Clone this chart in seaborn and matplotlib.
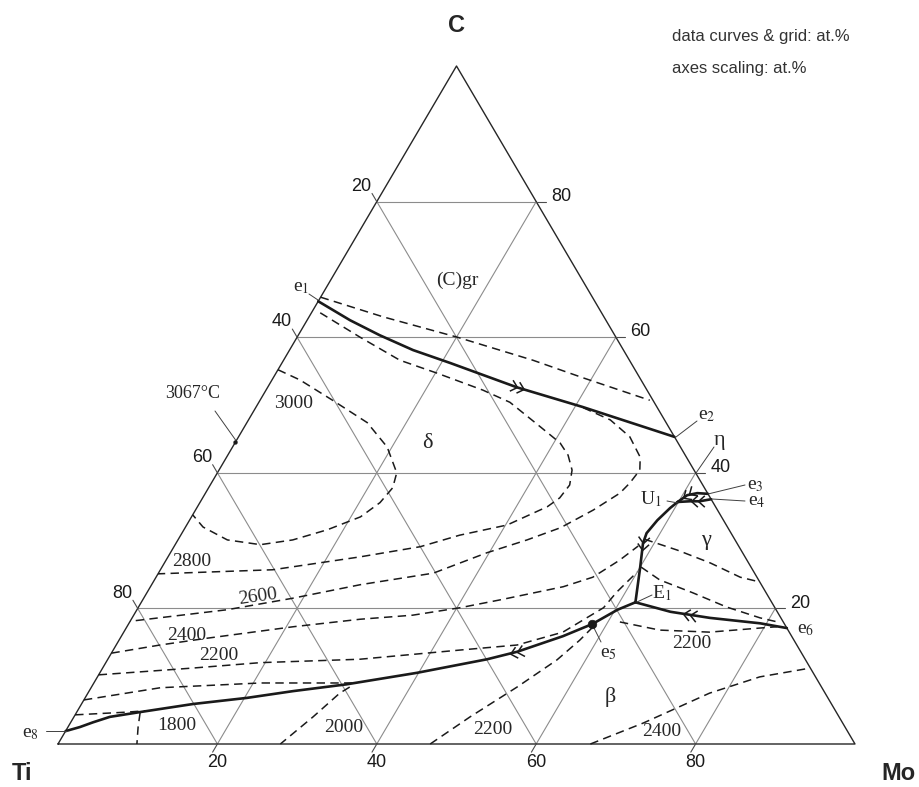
import numpy as np
import matplotlib
matplotlib.use("Agg")
import matplotlib.pyplot as plt
import seaborn as sns
from matplotlib.markers import MarkerStyle
from matplotlib.path import Path
from matplotlib.transforms import Affine2D

# --- liquidus projection, compositions as (Mo at.%, C at.%), Ti = balance ---
# monovariant lines (solid)
e1_e2 = [(0.0, 65.3), (5.4, 62.5), (10.2, 60.3), (15.5, 58.1), (21.1, 56.2),
         (31.3, 52.6), (41.0, 49.7), (54.7, 45.3)]
e8_e5_E1 = [(0.0, 1.9), (1.5, 2.5), (2.8, 3.2), (4.5, 4.0), (7.9, 4.7), (14.0, 5.9),
            (20.3, 6.8), (25.6, 7.8), (31.8, 8.8), (39.8, 10.5), (47.6, 12.5),
            (50.8, 13.6), (55.4, 15.9), (58.2, 17.7), (60.3, 19.8), (62.0, 20.9)]
E1_e6 = [(62.0, 20.9), (67.1, 19.5), (72.5, 18.6), (79.2, 17.8), (82.9, 17.1)]
E1_U1 = [(62.0, 20.9), (60.0, 26.1), (58.6, 29.6), (58.3, 31.1), (58.7, 33.0),
         (59.4, 34.8), (59.9, 35.7)]
U1_e3 = [(59.9, 35.7), (60.6, 36.7), (61.7, 37.0), (63.1, 36.9)]
U1_e4 = [(59.9, 35.7), (61.4, 35.8), (62.6, 35.8), (63.9, 36.1)]

# isotherms (dashed)
iso_gr = [(0.0, 65.9), (9.3, 63.0), (20.1, 60.0), (31.3, 56.6), (38.9, 54.0), (48.9, 50.7)]
iso_3000 = [(0.0, 55.2), (3.5, 53.7), (9.1, 50.7), (15.1, 47.4), (19.4, 43.8), (22.5, 40.0),
            (23.1, 37.8), (22.6, 35.6), (21.2, 33.5), (18.0, 31.6), (14.4, 30.1),
            (10.7, 29.4), (6.2, 30.1), (2.2, 32.0), (0.0, 33.8)]
iso_2800 = [(1.1, 63.6), (7.9, 60.0), (14.6, 56.6), (20.2, 54.7), (27.2, 52.2), (31.5, 50.4),
            (37.1, 46.8), (40.8, 44.4), (42.7, 42.6), (44.3, 40.4), (45.1, 38.2),
            (44.8, 36.3), (43.9, 35.0), (40.2, 32.3), (35.0, 30.8), (30.9, 29.1),
            (24.1, 27.6), (14.1, 25.7), (0.0, 25.1)]
iso_2600 = [(41.1, 49.6), (45.4, 47.8), (49.1, 45.3), (51.9, 42.3), (52.8, 40.4),
            (52.5, 38.5), (52.0, 37.0), (49.9, 34.5), (47.1, 31.9), (43.8, 30.1),
            (39.7, 28.2), (34.5, 25.2), (26.2, 23.5), (18.7, 21.5), (11.3, 19.8), (0.0, 18.1)]
iso_2400 = [(0.0, 13.4), (5.5, 14.6), (10.9, 15.6), (20.9, 17.3), (28.7, 18.4), (35.0, 19.0),
            (40.4, 20.1), (45.0, 21.3), (51.8, 23.2), (54.8, 24.6), (56.9, 27.1), (58.2, 29.2)]
iso_2400_g = [(58.5, 30.2), (63.4, 28.6), (68.5, 26.7), (73.3, 24.6), (76.1, 23.9)]
iso_2200 = [(0.0, 10.2), (11.3, 11.2), (19.4, 12.0), (31.6, 12.5), (43.9, 13.9), (50.3, 14.6),
            (55.1, 16.5), (58.4, 20.1), (58.9, 22.4), (60.0, 25.4)]
iso_2200_g = [(60.1, 26.1), (63.4, 24.2), (68.5, 22.3), (73.8, 20.2), (78.8, 18.6), (81.7, 17.9)]
iso_2000_d = [(0.0, 6.5), (8.7, 8.3), (20.9, 9.0), (32.4, 9.0)]
iso_1900_d = [(0.0, 4.3), (6.3, 4.7), (8.5, 4.9)]
iso_1800_b = [(8.0, 4.6), (8.8, 2.5), (9.9, 0.0)]
iso_2000_b = [(32.4, 8.4), (31.6, 7.5), (30.0, 4.0), (27.9, 0.0)]
iso_2200_b = [(46.7, 0.0), (49.7, 4.0), (53.4, 8.4), (56.4, 12.4), (57.8, 15.3), (58.5, 17.3)]
iso_2200_b2 = [(61.5, 18.0), (67.1, 16.8), (73.5, 16.5), (79.5, 17.1), (81.6, 17.3)]
iso_2400_b = [(66.8, 0.0), (71.9, 3.1), (78.0, 7.5), (83.1, 9.9), (88.8, 11.2)]

# direction arrows on monovariant lines: (at, towards)
arrows = [((31.3, 52.6), (41.0, 49.7)), ((50.8, 13.6), (47.6, 12.5)),
          ((69.8, 19.0), (67.1, 19.5)), ((58.6, 29.6), (60.0, 26.1)),
          ((60.8, 36.8), (59.9, 35.7)), ((62.4, 35.8), (61.4, 35.8))]

e5_point = (58.2, 17.7)
tic_point = (0.0, 44.5)   # TiC congruent maximum, 3067 C
grid_vals = [20, 40, 60, 80]

# --- figure geometry (pixels of the reference) ---
W, H = 920, 787
X0, Y0, SIDE, HT = 58, 744, 797, 678

sns.set_theme(style="white")
plt.rcParams["font.family"] = ["Liberation Serif", "DejaVu Serif"]
plt.rcParams["mathtext.fontset"] = "stix"

fig = plt.figure(figsize=(W / 100, H / 100), dpi=100)
ax = fig.add_axes([X0 / W, (H - Y0) / H, SIDE / W, HT / H])
ax.set_xlim(0, 100)
ax.set_ylim(0, 100)
ax.axis("off")


def tern(pts):
    pts = np.asarray(pts, float)
    return pts[:, 0] + pts[:, 1] / 2, pts[:, 1]


def curve(pts, **kw):
    x, y = tern(pts)
    sns.lineplot(x=x, y=y, sort=False, estimator=None, ax=ax, clip_on=False, **kw)


def pxd(px, py):
    # reference pixel -> data coords
    return (px - X0) / SIDE * 100, (Y0 - py) / HT * 100


def label(s, px, py, size=14, **kw):
    fig.text(px / W, 1 - py / H, s, ha=kw.pop("ha", "center"), va=kw.pop("va", "center"),
             fontsize=size, **kw)


def leader(p0, p1, lw=0.7):
    a, b = pxd(*p0), pxd(*p1)
    ax.plot([a[0], b[0]], [a[1], b[1]], color="0.25", lw=lw, clip_on=False)


# grid
grid_kw = dict(color="0.55", lw=0.8)
for v in grid_vals:
    curve([(0, v), (100 - v, v)], **grid_kw)
    curve([(v, 0), (v, 100 - v)], **grid_kw)
    curve([(100 - v, 0), (0, 100 - v)], **grid_kw)
curve([(0, 0), (100, 0), (0, 100), (0, 0)], color="0.15", lw=1.0)

# ticks and tick labels
tick_kw = dict(color="0.3", lw=0.8)
num_font = dict(fontsize=13, family=["Liberation Sans", "DejaVu Sans"], color="0.1")
for v in grid_vals:
    # left side: Ti content
    curve([(0, 100 - v), (-1.2, 100 - v + 1.2)], **tick_kw)
    x, y = tern([(0, 100 - v)])
    ax.annotate(str(v), (x[0], y[0]), xytext=(-11, 11), textcoords="offset points",
                ha="center", va="center", **num_font)
    # right side: C content
    curve([(100 - v, v), (101.2 - v, v)], **tick_kw)
    x, y = tern([(100 - v, v)])
    ax.annotate(str(v), (x[0], y[0]), xytext=(10.5, 3.8), textcoords="offset points",
                ha="left", va="center", **num_font)
    # bottom: Mo content
    curve([(v, 0), (v, -1.2)], **tick_kw)
    x, y = tern([(v, 0)])
    ax.annotate(str(v), (x[0], y[0]), xytext=(0, -13), textcoords="offset points",
                ha="center", va="center", **num_font)

# isotherms
dash_kw = dict(color="0.1", lw=1.1, linestyle=(0, (5.5, 3.5)))
for iso in [iso_gr, iso_3000, iso_2800, iso_2600, iso_2400, iso_2400_g, iso_2200,
            iso_2200_g, iso_2000_d, iso_1900_d, iso_1800_b, iso_2000_b, iso_2200_b,
            iso_2200_b2, iso_2400_b]:
    curve(iso, **dash_kw)

# monovariant lines
solid_kw = dict(color="k", lw=1.9)
for line in [e1_e2, e8_e5_E1, E1_e6, E1_U1, U1_e3, U1_e4]:
    curve(line, **solid_kw)

# points
px_, py_ = tern([e5_point, tic_point])
sns.scatterplot(x=px_[:1], y=py_[:1], ax=ax, color="k", s=38, edgecolor="k", zorder=5,
                clip_on=False)
sns.scatterplot(x=px_[1:], y=py_[1:], ax=ax, color="k", s=8, edgecolor="k", zorder=5,
                clip_on=False)

# arrows (double chevrons)
chev = Path([(-1.0, 0.9), (0, 0), (-1.0, -0.9), (0.1, 0.9), (1.1, 0), (0.1, -0.9)],
            [Path.MOVETO, Path.LINETO, Path.LINETO, Path.MOVETO, Path.LINETO, Path.LINETO])
for at, to in arrows:
    (xa, xb), (ya, yb) = tern([at, to])
    d0 = ax.transData.transform((xa, ya))
    d1 = ax.transData.transform((xb, yb))
    ang = np.degrees(np.arctan2(d1[1] - d0[1], d1[0] - d0[0]))
    ms = MarkerStyle(chev, transform=Affine2D().rotate_deg(ang))
    ax.plot([xa], [ya], marker=ms, markersize=10, mfc="none", mec="k", mew=1.1,
            ls="none", clip_on=False, zorder=6)

# leaders
leader((309, 294), (318, 300))
leader((676, 437), (697, 421))
leader((708, 494), (745, 485))
leader((712, 499), (745, 501))
leader((696, 473), (714, 447))
leader((667, 501), (678, 503))
leader((637, 602), (652, 595))
leader((594, 628), (601, 642))
leader((46, 731), (67, 731))
leader((215, 411), (237, 442))

# phase and point labels
label("(C)gr", 457, 280, 14)
label("δ", 427, 443, 16)
label("η", 720, 440, 16)
label("γ", 706, 540, 16)
label("β", 610, 697, 16)
label(r"e$_1$", 301, 288, 14)
label(r"e$_2$", 707, 416, 14)
label(r"e$_3$", 755, 485, 14)
label(r"e$_4$", 757, 502, 14)
label(r"e$_5$", 609, 654, 14)
label(r"e$_6$", 806, 629, 14)
label(r"e$_8$", 30, 734, 14)
label(r"U$_1$", 651, 499, 14)
label(r"E$_1$", 662, 593, 14)
label("3067°C", 193, 393, 13)

# isotherm labels
label("3000", 294, 403, 14)
label("2800", 192, 562, 14)
label("2600", 258, 597, 14, rotation=8)
label("2400", 187, 635, 14)
label("2200", 219, 655, 14)
label("1800", 177, 725, 14)
label("2000", 344, 728, 14)
label("2200", 493, 729, 14)
label("2200", 692, 643, 14)
label("2400", 662, 732, 14)

# corners and note
corner = dict(family=["Liberation Sans", "DejaVu Sans"], fontweight="bold")
label("C", 457, 25, 17, **corner)
label("Ti", 22, 773, 17, **corner)
label("Mo", 898, 773, 17, **corner)
note = dict(family=["Liberation Sans", "DejaVu Sans"], color="0.2", ha="left")
label("data curves & grid: at.%", 672, 37, 12, **note)
label("axes scaling: at.%", 672, 69, 12, **note)

fig.savefig("out.png", dpi=100, facecolor="white")
